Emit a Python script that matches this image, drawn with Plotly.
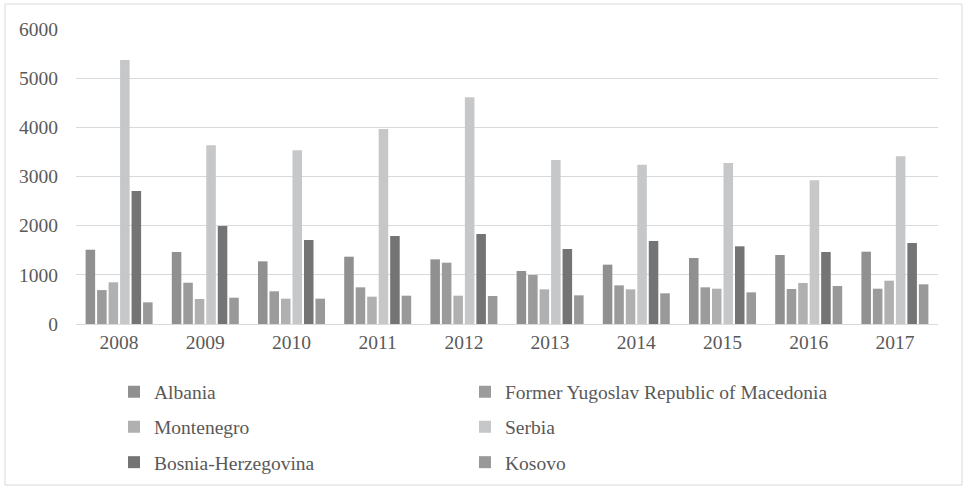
import plotly.graph_objects as go

years = ["2008", "2009", "2010", "2011", "2012", "2013", "2014", "2015", "2016", "2017"]
albania = [1511, 1464, 1275, 1369, 1315, 1078, 1207, 1342, 1403, 1471]
fyrom = [690, 840, 665, 746, 1247, 997, 786, 746, 712, 718]
montenegro = [848, 508, 515, 556, 576, 705, 705, 718, 834, 881]
serbia = [5369, 3634, 3533, 3966, 4610, 3335, 3240, 3274, 2922, 3410]
bosnia = [2705, 1993, 1708, 1790, 1830, 1525, 1688, 1580, 1464, 1647]
kosovo = [441, 535, 515, 576, 569, 583, 624, 644, 773, 807]

series = [
    ("Albania", albania, "#909090", "legend"),
    ("Former Yugoslav Republic of Macedonia", fyrom, "#9b9b9b", "legend"),
    ("Montenegro", montenegro, "#b0b0b0", "legend2"),
    ("Serbia", serbia, "#c6c7c8", "legend2"),
    ("Bosnia-Herzegovina", bosnia, "#747474", "legend3"),
    ("Kosovo", kosovo, "#999999", "legend3"),
]

fig = go.Figure()
for name, vals, color, lg in series:
    fig.add_trace(go.Bar(x=years, y=vals, name=name, marker_color=color,
                         marker_line_width=0, legend=lg,
                         legendwidth=360 if len(name) > 30 else None))

font_family = "Liberation Serif, Times New Roman, serif"
txt_color = "#595959"

L, R, T, B = 76, 26, 29, 164
W, H = 964, 488
pw = W - L - R
ph = H - T - B

def px_x(p):
    return (p - L) / pw

def px_y(p):
    return (H - B - p) / ph

legend_common = dict(
    orientation="h", xanchor="left", yanchor="middle",
    x=px_x(114), entrywidth=306, entrywidthmode="pixels",
    font=dict(family=font_family, size=19.5, color=txt_color),
    bgcolor="rgba(0,0,0,0)", itemclick=False, itemdoubleclick=False,
)

fig.update_layout(
    width=W, height=H,
    margin=dict(l=L, r=R, t=T, b=B, autoexpand=False),
    paper_bgcolor="white", plot_bgcolor="white",
    barmode="group", bargap=0.2, bargroupgap=0.17,
    font=dict(family=font_family, size=19.5, color=txt_color),
    legend=dict(y=px_y(392), **legend_common),
    legend2=dict(y=px_y(427), **legend_common),
    legend3=dict(y=px_y(462.5), **legend_common),
    xaxis=dict(showgrid=False, showline=True, linecolor="#d9d9d9", linewidth=1,
               ticks="", ticklabelstandoff=1,
               tickfont=dict(size=19.5, color=txt_color, family=font_family)),
    yaxis=dict(range=[0, 6000], dtick=1000, showgrid=True, gridcolor="#d9d9d9",
               gridwidth=1, zeroline=False, showline=False, ticks="", ticklabelstandoff=17,
               tickfont=dict(size=19.5, color=txt_color, family=font_family)),
    shapes=[dict(type="rect", xref="paper", yref="paper",
                 x0=px_x(5), x1=px_x(962), y0=px_y(485), y1=px_y(4),
                 line=dict(color="#d9d9d9", width=1), fillcolor="rgba(0,0,0,0)", layer="below")],
)

fig.write_html("out.html", config={"displayModeBar": False},
               post_script="document.body.style.margin='0';")
